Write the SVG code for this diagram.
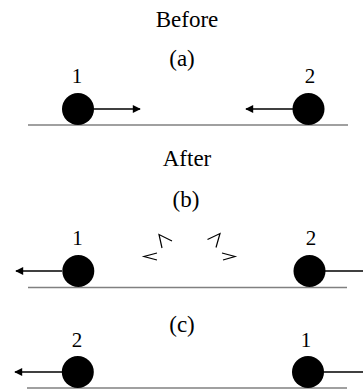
<svg xmlns="http://www.w3.org/2000/svg" width="363" height="389" viewBox="0 0 363 389">
<defs>
<style>
text{font-family:"Liberation Serif","Times New Roman",serif;font-size:21px;fill:#000;text-anchor:middle}
.title{font-size:23px}
.ball{fill:#000}
.ground{stroke:#808080;stroke-width:1.5;fill:none}
.vel{stroke:#000;stroke-width:1.5;fill:none}
.spark{stroke:#000;stroke-width:1.2;fill:none}
</style>
<marker id="ah" viewBox="0 0 10 10" refX="9" refY="5" markerWidth="9" markerHeight="8" markerUnits="userSpaceOnUse" orient="auto">
<path d="M0,0 L10,5 L0,10 z" fill="#000"/>
</marker>
</defs>
<rect width="363" height="389" fill="#fff"/>
<g id="labels">
<text class="title" x="187" y="27">Before</text>
<text class="title" x="182" y="66">(a)</text>
<text class="title" x="187" y="166">After</text>
<text class="title" x="186" y="207">(b)</text>
<text class="title" x="182" y="332">(c)</text>
</g>
<g id="grounds">
<line class="ground" x1="28" y1="125" x2="348" y2="125"/>
<line class="ground" x1="28" y1="287.5" x2="347" y2="287.5"/>
<line class="ground" x1="27" y1="388" x2="347" y2="388"/>
</g>
<g id="connectors">
<line class="vel" x1="94" y1="109" x2="140" y2="109" marker-end="url(#ah)"/>
<line class="vel" x1="293" y1="109" x2="246" y2="109" marker-end="url(#ah)"/>
<line class="vel" x1="62" y1="271" x2="16" y2="271" marker-end="url(#ah)"/>
<line class="vel" x1="325" y1="271" x2="363" y2="271"/>
<line class="vel" x1="62" y1="372" x2="15" y2="372" marker-end="url(#ah)"/>
<line class="vel" x1="324" y1="372" x2="363" y2="372"/>
</g>
<g id="ball-a1"><circle class="ball" cx="78" cy="109" r="16"/><text x="77" y="83">1</text></g>
<g id="ball-a2"><circle class="ball" cx="308.5" cy="109" r="16"/><text x="310" y="83">2</text></g>
<g id="ball-b1"><circle class="ball" cx="78.3" cy="271" r="16"/><text x="77.5" y="245">1</text></g>
<g id="ball-b2"><circle class="ball" cx="309.5" cy="271" r="16"/><text x="311" y="245">2</text></g>
<g id="ball-c2"><circle class="ball" cx="77.8" cy="372" r="16"/><text x="77" y="347">2</text></g>
<g id="ball-c1"><circle class="ball" cx="308" cy="372" r="16"/><text x="306" y="347">1</text></g>
<g id="sparks">
<polyline class="spark" points="157,253 144,256.5 157,260"/>
<polyline class="spark" points="162,248 159,234.5 172,241"/>
<polyline class="spark" points="207.5,239.5 220,233.5 216,247.5"/>
<polyline class="spark" points="222,253 235,256.5 223,260"/>
</g>
</svg>
